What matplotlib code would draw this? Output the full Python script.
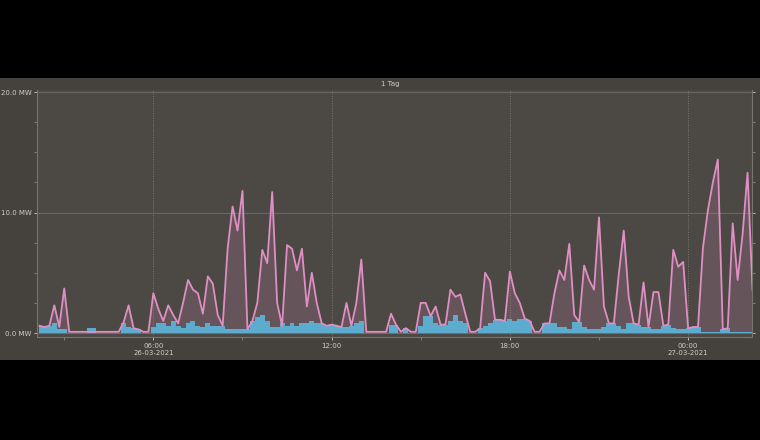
import numpy as np
import pandas as pd
import matplotlib
matplotlib.use("Agg")
import matplotlib.pyplot as plt
import matplotlib.dates as mdates
from matplotlib.patches import Rectangle
from matplotlib.ticker import MultipleLocator, FixedLocator

# 10-minuten Werte ab 26-03-2021 02:05 (MW)
pink = [0.6, 0.5, 0.6, 2.3, 0.5, 3.7, 0.1, 0.1, 0.1, 0.1,
        0.1, 0.1, 0.1, 0.1, 0.1, 0.1, 0.1, 0.9, 2.3, 0.4,
        0.3, 0.1, 0.1, 3.3, 2.0, 1.0, 2.3, 1.5, 0.8, 2.5,
        4.4, 3.6, 3.3, 1.6, 4.7, 4.1, 1.5, 0.6, 7.0, 10.5,
        8.5, 11.8, 0.3, 1.0, 2.5, 6.9, 5.8, 11.7, 2.5, 0.6,
        7.3, 7.0, 5.2, 7.0, 2.2, 5.0, 2.5, 0.8, 0.6, 0.7,
        0.6, 0.5, 2.5, 0.6, 2.5, 6.1, 0.1, 0.1, 0.1, 0.1,
        0.1, 1.6, 0.7, 0.1, 0.4, 0.1, 0.1, 2.5, 2.5, 1.4,
        2.2, 0.7, 0.7, 3.6, 3.0, 3.2, 1.6, 0.1, 0.1, 0.4,
        5.0, 4.3, 1.1, 1.1, 1.0, 5.1, 3.3, 2.5, 1.2, 1.0,
        0.1, 0.1, 0.8, 0.8, 3.3, 5.2, 4.4, 7.4, 1.5, 0.9,
        5.6, 4.4, 3.6, 9.6, 2.2, 0.8, 0.8, 4.9, 8.5, 3.0,
        0.8, 0.7, 4.2, 0.5, 3.4, 3.4, 0.6, 0.7, 6.9, 5.5,
        5.9, 0.4, 0.5, 0.5, 7.1, 10.2, 12.5, 14.4, 0.3, 0.4,
        9.1, 4.4, 8.2, 13.3, 3.6]
blue = [0.6, 0.5, 0.6, 0.8, 0.3, 0.3, 0.0, 0.0, 0.0, 0.0,
        0.4, 0.4, 0.0, 0.0, 0.0, 0.0, 0.0, 0.8, 0.5, 0.4,
        0.3, 0.0, 0.0, 0.5, 0.8, 0.8, 0.6, 1.0, 0.6, 0.4,
        0.8, 1.0, 0.6, 0.5, 0.8, 0.6, 0.6, 0.6, 0.3, 0.3,
        0.3, 0.3, 0.3, 1.0, 1.3, 1.5, 1.0, 0.5, 0.5, 0.8,
        0.6, 0.8, 0.6, 0.8, 0.8, 1.0, 0.8, 0.8, 0.6, 0.7,
        0.6, 0.5, 0.5, 0.6, 0.8, 1.0, 0.0, 0.0, 0.0, 0.0,
        0.0, 0.7, 0.7, 0.0, 0.4, 0.0, 0.0, 0.6, 1.4, 1.4,
        0.8, 0.7, 0.7, 1.0, 1.5, 1.0, 0.8, 0.0, 0.0, 0.4,
        0.6, 0.8, 1.1, 1.1, 1.0, 1.2, 1.0, 1.2, 1.2, 1.0,
        0.0, 0.0, 0.8, 0.8, 0.8, 0.5, 0.5, 0.3, 0.9, 0.9,
        0.5, 0.3, 0.3, 0.3, 0.5, 0.8, 0.8, 0.6, 0.3, 0.8,
        0.8, 0.7, 0.5, 0.5, 0.3, 0.3, 0.6, 0.7, 0.4, 0.3,
        0.3, 0.4, 0.5, 0.5, 0.1, 0.1, 0.1, 0.1, 0.3, 0.4,
        0.1, 0.1, 0.1, 0.1, 0.1]
x_labels = ["06:00\n26-03-2021", "12:00", "18:00", "00:00\n27-03-2021"]
y_labels = ["0.0 MW", "10.0 MW", "20.0 MW"]

t = pd.date_range("2021-03-26 02:10", periods=len(pink), freq="10min")
t_num = mdates.date2num(t)

fig = plt.figure(figsize=(7.6, 4.4), dpi=100, facecolor="black")
# grauer Kasten hinter dem Diagramm
fig.patches.append(Rectangle((0, 1 - 360 / 440), 1, 282 / 440, transform=fig.transFigure,
                             facecolor="#45423d", edgecolor="none", zorder=-1))
ax = fig.add_axes([37 / 760, 1 - 337 / 440, 715 / 760, 247 / 440])
ax.set_zorder(2)
ax.set_facecolor("#4c4944")

ax.fill_between(t_num, 0, pink, color="#d987bd", alpha=0.18, lw=0, zorder=2)
ax.fill_between(t_num, 0, blue, step="mid", color="#5cb6dd", alpha=0.9, lw=0, zorder=3)
ax.plot(t_num, pink, color="#e08fc4", lw=1.3, zorder=4)

x0 = mdates.date2num(pd.Timestamp("2021-03-26 02:05"))
x1 = mdates.date2num(pd.Timestamp("2021-03-27 02:09"))
ax.set_xlim(x0, x1)
ax.set_ylim(-0.33, 20.17)

major = pd.date_range("2021-03-26 06:00", periods=4, freq="6h")
minor = pd.date_range("2021-03-26 03:00", periods=9, freq="3h")
ax.xaxis.set_major_locator(FixedLocator(mdates.date2num(major)))
ax.xaxis.set_minor_locator(FixedLocator(mdates.date2num(minor)))
ax.set_xticklabels(x_labels)
ax.set_yticks([0, 10, 20])
ax.set_yticklabels(y_labels)
ax.yaxis.set_minor_locator(MultipleLocator(2.5))

ax.grid(True, axis="x", which="major", color="#7a7770", ls=(0, (1, 1.5)), lw=0.7)
ax.grid(True, axis="y", which="major", color="#6a6761", ls="-", lw=0.8)
ax.tick_params(colors="#cfcdc8", labelsize=5, length=2, width=0.6, pad=2)
ax.tick_params(which="minor", colors="#8a8780", length=2, width=0.6)
ax.tick_params(axis="y", which="both", right=True)
for s in ["left", "bottom", "right"]:
    ax.spines[s].set_color("#77746e")
    ax.spines[s].set_linewidth(0.8)
ax.spines["top"].set_visible(False)

fig.text(390 / 760, 1 - 84 / 440, "1 Tag", ha="center", va="center",
         fontsize=5, color="#cfcdc8")

fig.savefig("out.png", dpi=100, facecolor="black")
